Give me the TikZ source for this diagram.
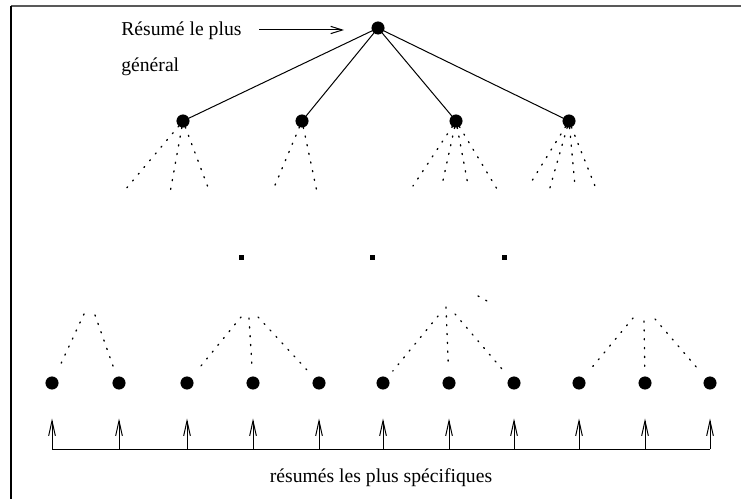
\documentclass[tikz,border=0pt]{standalone}
\usepackage{fontspec}
\setmainfont{Liberation Serif}
\usetikzlibrary{arrows.meta}
\usetikzlibrary{positioning}

\begin{document}
\begin{tikzpicture}[x=0.6pt,y=-0.6pt,font=\fontsize{11.8}{14}\selectfont,
	blk/.style={draw,circle,fill=black,inner sep=0pt,minimum size=7.4pt},
	squr/.style={fill=black,inner sep=0pt,minimum size=3pt},
	pts/.style={line width=0.8pt,dash pattern=on 0.7pt off 4.6pt,line cap=round},
	up/.style={-{Straight Barb[length=9pt,width=4pt]},line width=0.6pt,shorten >=17.4pt}]
	\useasboundingbox (0,0) rectangle (741,499);
	\draw[line width=1.1pt,black!65] (11,6) -- (741,6);
	\draw[line width=1pt] (11,6) -- (11,499);
	% racine et premier niveau
	\node [blk] (r) at (378,28) {};
	\node [blk] (n1) at (183,121) {};
	\node [blk] (n2) at (302,121) {};
	\node [blk] (n3) at (456,121) {};
	\node [blk] (n4) at (569,121) {};
	\draw[line width=0.6pt] (r)--(n1);
	\draw[line width=0.6pt] (r)--(n2);
	\draw[line width=0.6pt] (r)--(n3);
	\draw[line width=0.6pt] (r)--(n4);
	\node [anchor=base west,inner sep=0pt] (t1) at (121,36) {Résumé le plus};
	\node [anchor=base west,inner sep=0pt] (t2) at (121,72) {général};
	\coordinate (a0) at (259,30);
	\coordinate (a1) at (344,30);
	\draw[-{Straight Barb[length=7pt,width=4.4pt]},line width=0.6pt] (a0)--(a1);
	% pointilles du haut
	\coordinate (p1) at (125,190);
	\coordinate (p2) at (170,193);
	\coordinate (p3) at (209,190);
	\coordinate (p4) at (273,190);
	\coordinate (p5) at (317,192);
	\coordinate (p6) at (413,186);
	\coordinate (p7) at (442,185);
	\coordinate (p8) at (468,185);
	\coordinate (p9) at (497,189);
	\coordinate (p10) at (530,184);
	\coordinate (p11) at (549,191);
	\coordinate (p12) at (575,186);
	\coordinate (p13) at (597,191);
	\draw[pts] (n1)--(p1); \draw[pts] (n1)--(p2); \draw[pts] (n1)--(p3);
	\draw[pts] (n2)--(p4); \draw[pts] (n2)--(p5);
	\draw[pts] (n3)--(p6); \draw[pts] (n3)--(p7); \draw[pts] (n3)--(p8); \draw[pts] (n3)--(p9);
	\draw[pts] (n4)--(p10); \draw[pts] (n4)--(p11); \draw[pts] (n4)--(p12); \draw[pts] (n4)--(p13);
	% ...
	\node [squr] (s1) at (241,258) {};
	\node [squr] (s2) at (372,258) {};
	\node [squr] (s3) at (504,258) {};
	\coordinate (x0) at (478,296);
	\coordinate (x1) at (487,301);
	\draw[pts] (x0)--(x1);
	% niveau du bas
	\node [blk] (b1) at (52,383) {};
	\node [blk] (b2) at (119,383) {};
	\node [blk] (b3) at (187,383) {};
	\node [blk] (b4) at (253,383) {};
	\node [blk] (b5) at (319,383) {};
	\node [blk] (b6) at (383,383) {};
	\node [blk] (b7) at (449,383) {};
	\node [blk] (b8) at (514,383) {};
	\node [blk] (b9) at (579,383) {};
	\node [blk] (b10) at (645,383) {};
	\node [blk] (b11) at (710,383) {};
	\coordinate (q1) at (84,314);
	\coordinate (q2) at (95,315);
	\coordinate (q3) at (241,317);
	\coordinate (q4) at (249,318);
	\coordinate (q5) at (258,317);
	\coordinate (q6) at (438,316);
	\coordinate (q7) at (446,307);
	\coordinate (q8) at (455,314);
	\coordinate (q9) at (633,318);
	\coordinate (q10) at (644,321);
	\coordinate (q11) at (655,319);
	\draw[pts,shorten >=5.4pt] (q1)--(b1); \draw[pts,shorten >=5.4pt] (q2)--(b2);
	\draw[pts,shorten >=5.4pt] (q3)--(b3); \draw[pts,shorten >=5.4pt] (q4)--(b4);
	\draw[pts,shorten >=5.4pt] (q5)--(b5);
	\draw[pts,shorten >=5.4pt] (q6)--(b6); \draw[pts,shorten >=5.4pt] (q7)--(b7);
	\draw[pts,shorten >=5.4pt] (q8)--(b8);
	\draw[pts,shorten >=5.4pt] (q9)--(b9); \draw[pts,shorten >=5.4pt] (q10)--(b10);
	\draw[pts,shorten >=5.4pt] (q11)--(b11);
	% fleches
	\draw[line width=0.6pt] (b1|-0,449)--(b11|-0,449);
	\draw[up] (b1|-0,449)--(b1);
	\draw[up] (b2|-0,449)--(b2);
	\draw[up] (b3|-0,449)--(b3);
	\draw[up] (b4|-0,449)--(b4);
	\draw[up] (b5|-0,449)--(b5);
	\draw[up] (b6|-0,449)--(b6);
	\draw[up] (b7|-0,449)--(b7);
	\draw[up] (b8|-0,449)--(b8);
	\draw[up] (b9|-0,449)--(b9);
	\draw[up] (b10|-0,449)--(b10);
	\draw[up] (b11|-0,449)--(b11);
	\node (t3) at (381,478) {résumés les plus spécifiques};
\end{tikzpicture}
\end{document}
